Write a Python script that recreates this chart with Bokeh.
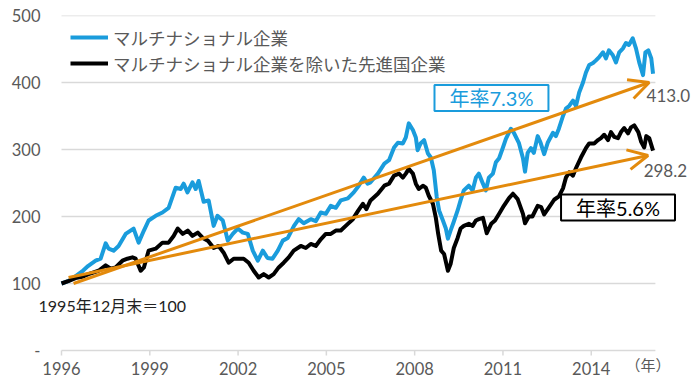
from bokeh.plotting import figure
from bokeh.models import (Range1d, FixedTicker, Label, Arrow, OpenHead, Legend,
                          LegendItem)
from bokeh.embed import file_html
from bokeh.resources import INLINE

# ---- data ----
multi_t = [1996.00, 1996.25, 1996.48, 1996.70, 1996.90, 1997.16, 1997.33, 1997.50, 1997.60, 1997.77,
           1997.94, 1998.18, 1998.45, 1998.62, 1998.80, 1998.96, 1999.20, 1999.43, 1999.64, 1999.88,
           2000.05, 2000.15, 2000.28, 2000.45, 2000.56, 2000.66, 2000.83, 2001.00, 2001.17, 2001.30,
           2001.48, 2001.65, 2001.82, 2001.99, 2002.16, 2002.33, 2002.50, 2002.67, 2002.84, 2003.00,
           2003.17, 2003.35, 2003.52, 2003.69, 2003.90, 2004.06, 2004.23, 2004.47, 2004.64, 2004.81,
           2004.98, 2005.15, 2005.32, 2005.49, 2005.73, 2005.93, 2006.10, 2006.27, 2006.40, 2006.50,
           2006.75, 2006.97, 2007.13, 2007.30, 2007.43, 2007.60, 2007.70, 2007.80, 2007.94, 2008.04,
           2008.10, 2008.20, 2008.32, 2008.45, 2008.55, 2008.65, 2008.75, 2008.83, 2008.96, 2009.06,
           2009.13, 2009.22, 2009.32, 2009.46, 2009.56, 2009.67, 2009.84, 2009.97, 2010.08, 2010.18,
           2010.32, 2010.42, 2010.52, 2010.66, 2010.76, 2010.87, 2011.00, 2011.10, 2011.27, 2011.37,
           2011.54, 2011.68, 2011.75, 2011.84, 2011.95, 2012.05, 2012.18, 2012.28, 2012.40, 2012.52,
           2012.70, 2012.80, 2012.90, 2013.04, 2013.14, 2013.25, 2013.38, 2013.48, 2013.59, 2013.72,
           2013.82, 2013.93, 2014.06, 2014.16, 2014.27, 2014.40, 2014.50, 2014.60, 2014.73, 2014.84,
           2014.95, 2015.08, 2015.18, 2015.28, 2015.41, 2015.52, 2015.63, 2015.76, 2015.84, 2015.94,
           2016.04, 2016.10]
multi_v = [100, 104, 111, 118, 126, 134, 137, 160, 152, 149,
           156, 174, 182, 161, 179, 194, 201, 206, 213, 243,
           241, 249, 236, 251, 241, 253, 222, 224, 186, 201,
           194, 164, 174, 182, 176, 174, 149, 134, 149, 138,
           137, 149, 164, 168, 186, 196, 190, 196, 193, 206,
           204, 216, 213, 224, 227, 236, 246, 258, 249, 251,
           264, 279, 284, 303, 310, 309, 318, 339, 329, 318,
           299, 309, 314, 294, 288, 269, 229, 209, 194, 182,
           167, 179, 191, 209, 224, 239, 246, 239, 258, 264,
           249, 239, 258, 264, 281, 287, 303, 316, 331, 325,
           310, 287, 267, 295, 302, 295, 320, 310, 293, 310,
           325, 320, 331, 350, 361, 365, 373, 365, 385, 400,
           415, 426, 429, 433, 438, 445, 436, 448, 441, 430,
           445, 451, 459, 456, 466, 451, 430, 411, 445, 448,
           436, 413.0]

ex_t = [1996.00, 1996.25, 1996.48, 1996.70, 1996.92, 1997.26, 1997.50, 1997.67, 1997.84, 1998.07,
        1998.24, 1998.41, 1998.52, 1998.69, 1998.80, 1998.96, 1999.20, 1999.43, 1999.64, 1999.81,
        1999.95, 2000.12, 2000.29, 2000.45, 2000.63, 2000.80, 2000.97, 2001.17, 2001.34, 2001.51,
        2001.68, 2001.85, 2002.02, 2002.19, 2002.36, 2002.53, 2002.70, 2002.87, 2003.04, 2003.21,
        2003.38, 2003.55, 2003.72, 2003.89, 2004.13, 2004.30, 2004.47, 2004.64, 2004.81, 2004.98,
        2005.15, 2005.32, 2005.49, 2005.73, 2005.90, 2006.07, 2006.24, 2006.36, 2006.50, 2006.75,
        2006.97, 2007.13, 2007.30, 2007.47, 2007.60, 2007.70, 2007.80, 2007.94, 2008.04, 2008.14,
        2008.28, 2008.38, 2008.48, 2008.62, 2008.72, 2008.80, 2008.90, 2009.00, 2009.13, 2009.22,
        2009.33, 2009.46, 2009.56, 2009.67, 2009.84, 2009.97, 2010.08, 2010.18, 2010.32, 2010.45,
        2010.60, 2010.73, 2010.87, 2011.03, 2011.20, 2011.34, 2011.50, 2011.68, 2011.75, 2011.88,
        2012.00, 2012.18, 2012.30, 2012.40, 2012.57, 2012.74, 2012.90, 2013.04, 2013.14, 2013.25,
        2013.38, 2013.48, 2013.65, 2013.82, 2013.93, 2014.10, 2014.23, 2014.33, 2014.44, 2014.57,
        2014.67, 2014.78, 2014.91, 2015.01, 2015.12, 2015.25, 2015.35, 2015.46, 2015.60, 2015.70,
        2015.80, 2015.87, 2015.97, 2016.10]
ex_v = [100, 104, 108, 110, 114, 119, 127, 122, 124, 134,
        137, 139, 137, 119, 124, 149, 152, 161, 161, 171,
        182, 174, 179, 171, 176, 168, 164, 153, 156, 146,
        131, 137, 137, 137, 131, 119, 109, 114, 109, 114,
        124, 131, 139, 149, 156, 153, 159, 156, 166, 174,
        174, 179, 179, 189, 196, 208, 219, 211, 224, 234,
        246, 249, 261, 264, 258, 264, 271, 264, 249, 241,
        246, 243, 231, 219, 198, 174, 149, 144, 119, 129,
        153, 168, 182, 186, 189, 186, 194, 196, 198, 175,
        189, 194, 204, 216, 227, 234, 226, 204, 190, 200,
        200, 216, 214, 203, 214, 225, 230, 242, 258, 266,
        261, 272, 288, 302, 309, 309, 314, 317, 322, 314,
        326, 319, 317, 326, 332, 324, 333, 336, 326, 311,
        303, 320, 317, 298.2]

# trend arrows (7.3% p.a., 5.6% p.a.)
trend_t0 = [1996.41, 1996.24]
trend_v0 = [100, 109]
trend_t1 = [2015.97, 2015.93]
trend_v1 = [400, 291]
trend_labels = ["年率7.3%", "年率5.6%"]
end_labels = ["413.0", "298.2"]

series_names = ["マルチナショナル企業", "マルチナショナル企業を除いた先進国企業"]
x_ticks = [1996, 1999, 2002, 2005, 2008, 2011, 2014]
y_ticks = [0, 100, 200, 300, 400, 500]
x_first, x_last = 1996, 2016.18   # extent of the plotted period (grid lines)

BLUE = "#1a9cdc"
BLACK = "#000000"
ORANGE = "#e38a0c"
GRAY = "#595959"
GRID = "#d9d9d9"
NUMF = "Lato, Noto Sans CJK JP"
JPF = "Noto Sans CJK JP"

PX_PER_YEAR = 29.43
PX_PER_UNIT = 0.67

p = figure(width=700, height=387, output_backend="svg", toolbar_location=None,
           x_range=Range1d(1996 - 24 / PX_PER_YEAR, 1996 + 634 / PX_PER_YEAR),
           y_range=Range1d(-28 / PX_PER_UNIT, 500),
           min_border_left=37, min_border_right=5, min_border_top=15, min_border_bottom=9)
p.outline_line_color = None
p.background_fill_color = "white"
p.border_fill_color = "white"

# x axis: real tick labels; line and tick marks drawn as segments at y = 0
p.xaxis.ticker = FixedTicker(ticks=x_ticks)
p.xaxis.axis_line_color = None
p.xaxis.major_tick_line_color = None
p.xaxis.minor_tick_line_color = None
p.xaxis.major_tick_out = 0
p.xaxis.major_tick_in = 0
p.xaxis.major_label_standoff = -17
p.xaxis.major_label_text_font = NUMF
p.xaxis.major_label_text_font_size = "16.5px"
p.xaxis.major_label_text_color = GRAY

p.yaxis.ticker = FixedTicker(ticks=y_ticks)
p.yaxis.major_label_overrides = {0: "-"}
p.yaxis.axis_line_color = None
p.yaxis.major_tick_line_color = None
p.yaxis.minor_tick_line_color = None
p.yaxis.major_tick_out = 0
p.yaxis.major_tick_in = 0
p.yaxis.major_label_standoff = -3
p.yaxis.major_label_text_font = NUMF
p.yaxis.major_label_text_font_size = "16.5px"
p.yaxis.major_label_text_color = GRAY

p.xgrid.grid_line_color = None
p.ygrid.grid_line_color = None

# grid lines (100..500), base line (0) and x tick marks
p.segment(x0=[x_first] * len(y_ticks), y0=y_ticks, x1=[x_last] * len(y_ticks), y1=y_ticks,
          line_color=GRID, line_width=1.5)
p.segment(x0=x_ticks, y0=[0] * len(x_ticks), x1=x_ticks, y1=[-5 / PX_PER_UNIT] * len(x_ticks),
          line_color=GRID, line_width=1.5)

# lines
r1 = p.line(multi_t, multi_v, line_color=BLUE, line_width=4, line_join="round")
r2 = p.line(ex_t, ex_v, line_color=BLACK, line_width=4, line_join="round")

# trend arrows
for i in range(2):
    p.add_layout(Arrow(x_start=trend_t0[i], y_start=trend_v0[i], x_end=trend_t1[i], y_end=trend_v1[i],
                       line_color=ORANGE, line_width=3,
                       end=OpenHead(size=20, line_color=ORANGE, line_width=3)))

# legend
legend = Legend(items=[LegendItem(label=series_names[0], renderers=[r1]),
                       LegendItem(label=series_names[1], renderers=[r2])],
                location=(33, 302), glyph_width=38, glyph_height=26, label_height=26,
                label_standoff=5, spacing=0, padding=0, margin=0,
                border_line_color=None, background_fill_alpha=0,
                label_text_font=JPF, label_text_font_size="17.5px", label_text_color=GRAY)
p.add_layout(legend)

# labels
box_pad = dict(left=15, right=15, top=1, bottom=1)
p.add_layout(Label(x=2010.61, y=376.9, text=trend_labels[0], text_font=NUMF, text_font_size="20px",
                   text_color=BLUE, text_align="center", text_baseline="middle",
                   border_line_color=BLUE, border_line_width=2, background_fill_color="white",
                   padding=box_pad))
p.add_layout(Label(x=2014.91, y=213.4, text=trend_labels[1], text_font=NUMF, text_font_size="20px",
                   text_color=BLACK, text_align="center", text_baseline="middle",
                   border_line_color=BLACK, border_line_width=2, background_fill_color="white",
                   padding=box_pad))
p.add_layout(Label(x=2015.88, y=380.6, text=end_labels[0], text_font=NUMF, text_font_size="17px",
                   text_color=GRAY, text_align="left", text_baseline="middle"))
p.add_layout(Label(x=2015.78, y=268.7, text=end_labels[1], text_font=NUMF, text_font_size="17px",
                   text_color=GRAY, text_align="left", text_baseline="middle"))
p.add_layout(Label(x=1995.22, y=67.2, text="1995年12月末＝100", text_font=NUMF, text_font_size="16px",
                   text_color="#222222", text_align="left", text_baseline="middle"))
p.add_layout(Label(x=2015.93, y=-21.6, text="（年）", text_font=JPF, text_font_size="15px",
                   text_color=GRAY, text_align="center", text_baseline="middle"))

open("out.html", "w").write(file_html(p, INLINE))
